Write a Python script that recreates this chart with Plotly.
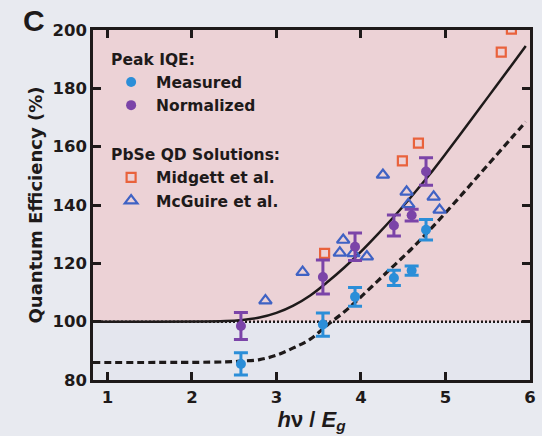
import plotly.graph_objects as go

# ---- data ----
pair_x = [2.58, 3.55, 3.93, 4.39, 4.60, 4.77]
meas_y = [85.5, 99.0, 108.5, 115.0, 117.5, 131.5]
meas_err = [3.8, 4.0, 3.2, 2.6, 1.6, 3.5]
norm_y = [98.5, 115.3, 125.7, 133.0, 136.5, 151.5]
norm_err = [4.6, 5.8, 4.7, 3.6, 2.0, 4.7]

midgett_x = [3.57, 4.49, 4.68, 5.66, 5.78]
midgett_y = [123.4, 155.1, 161.2, 192.4, 200.3]

mcguire_x = [2.87, 3.31, 3.75, 3.79, 3.91, 4.07, 4.26, 4.54, 4.56, 4.86, 4.93]
mcguire_y = [107.2, 117.0, 123.6, 128.0, 123.4, 122.3, 150.3, 144.5, 140.2, 142.8, 138.3]

curve_x = [0.83, 2.4, 2.6, 2.8, 3.0, 3.2, 3.4, 3.6, 3.8, 4.0, 4.2, 4.4, 4.6, 4.8, 5.0, 5.2, 5.4, 5.6, 5.8, 5.95]
solid_y = [100, 100.2, 100.6, 101.4, 103.0, 105.5, 109.0, 113.5, 118.5, 124.0, 130.0, 136.3, 143.0, 150.0, 157.5, 165.2, 173.0, 180.8, 188.6, 194.5]
dashed_y = [86, 86.2, 86.5, 87.0, 88.5, 91.0, 94.0, 98.8, 103.3, 108.5, 114.0, 119.5, 125.0, 131.0, 137.3, 143.8, 150.4, 157.0, 163.6, 168.5]

unity_x = [0.83, 6.0]
unity_y = [100, 100]

x_ticks = [1, 2, 3, 4, 5, 6]
y_ticks = [80, 100, 120, 140, 160, 180, 200]

BLUE = "#2b8ed8"
PURPLE = "#7b44a8"
ORANGE = "#e9623c"
TRI = "#3f62c4"
INK = "#1e1a1a"
FONT = "DejaVu Sans, Liberation Sans, sans-serif"
FONT2 = "Liberation Sans, Arial, sans-serif"

fig = go.Figure()

# model curves
fig.add_trace(go.Scatter(x=curve_x, y=solid_y, mode="lines", showlegend=False,
                         line=dict(color=INK, width=2.5, shape="spline"), hoverinfo="skip"))
fig.add_trace(go.Scatter(x=curve_x, y=dashed_y, mode="lines", showlegend=False,
                         line=dict(color=INK, width=3.2, dash="7px,4px", shape="spline"), hoverinfo="skip"))
fig.add_trace(go.Scatter(x=unity_x, y=unity_y, mode="lines", showlegend=False,
                         line=dict(color=INK, width=2.5, dash="2px,2px"), hoverinfo="skip"))

# literature
fig.add_trace(go.Scatter(x=mcguire_x, y=mcguire_y, mode="markers", name="McGuire et al.",
                         legendgroup="sol", legendgrouptitle=dict(text="PbSe QD Solutions:"),
                         marker=dict(symbol="triangle-up-open", size=11, color=TRI, line=dict(width=2.2, color=TRI)),
                         legendrank=4))
fig.add_trace(go.Scatter(x=midgett_x, y=midgett_y, mode="markers", name="Midgett et al.",
                         legendgroup="sol", legendgrouptitle=dict(text="PbSe QD Solutions:"),
                         marker=dict(symbol="square-open", size=9, color=ORANGE, line=dict(width=2.2, color=ORANGE)),
                         legendrank=3))

# measurements
fig.add_trace(go.Scatter(x=pair_x, y=meas_y, mode="markers", name="Measured",
                         legendgroup="iqe", legendgrouptitle=dict(text="Peak IQE:"),
                         marker=dict(symbol="circle", size=10, color=BLUE),
                         error_y=dict(type="data", array=meas_err, color=BLUE, thickness=3, width=7),
                         legendrank=1))
fig.add_trace(go.Scatter(x=pair_x, y=norm_y, mode="markers", name="Normalized",
                         legendgroup="iqe", legendgrouptitle=dict(text="Peak IQE:"),
                         marker=dict(symbol="circle", size=10, color=PURPLE),
                         error_y=dict(type="data", array=norm_err, color=PURPLE, thickness=3, width=7),
                         legendrank=2))

# pink region above 100 %
fig.add_shape(type="rect", xref="paper", yref="y", x0=0, x1=1, y0=100, y1=200,
              fillcolor="#ecd2d6", line=dict(width=0), layer="below")

fig.add_annotation(text="<b>C</b>", xref="paper", yref="paper", x=-0.165, y=1.026,
                   xanchor="left", yanchor="middle", showarrow=False,
                   font=dict(family=FONT2, size=30, color=INK))

axis_common = dict(showline=True, linecolor=INK, linewidth=2.5, mirror="ticks",
                   ticks="inside", ticklen=8, tickwidth=2.5, tickcolor=INK,
                   showgrid=False, zeroline=False, automargin=False,
                   tickfont=dict(family=FONT, size=16.5, color=INK, weight="bold"))

fig.update_layout(
    width=542, height=436,
    margin=dict(l=93, r=12, t=30, b=56),
    paper_bgcolor="#e8eaf0",
    plot_bgcolor="#e4e6ee",
    font=dict(family=FONT, color=INK),
    xaxis=dict(range=[0.83, 6.0], tickvals=x_ticks, ticktext=[str(v) for v in x_ticks],
               title=dict(text="<b><i>h</i>ν / <i>E</i><sub><i>g</i></sub></b>",
                          font=dict(family=FONT2, size=22), standoff=0),
               **axis_common),
    yaxis=dict(range=[80, 200], tickvals=y_ticks, ticktext=[str(v) for v in y_ticks],
               title=dict(text="Quantum Efficiency (%)",
                          font=dict(family=FONT, size=18, weight="bold"), standoff=6),
               **axis_common),
    legend=dict(x=0.03, y=0.965, xanchor="left", yanchor="top", bgcolor="rgba(0,0,0,0)",
                traceorder="grouped", tracegroupgap=26, itemwidth=40,
                font=dict(family=FONT, size=15.5, color=INK, weight="bold"),
                grouptitlefont=dict(family=FONT, size=15.5, color=INK, weight="bold")),
)

fig.write_html("out.html", config={"displayModeBar": False},
               post_script="document.body.style.margin='0';document.body.style.padding='0';")
